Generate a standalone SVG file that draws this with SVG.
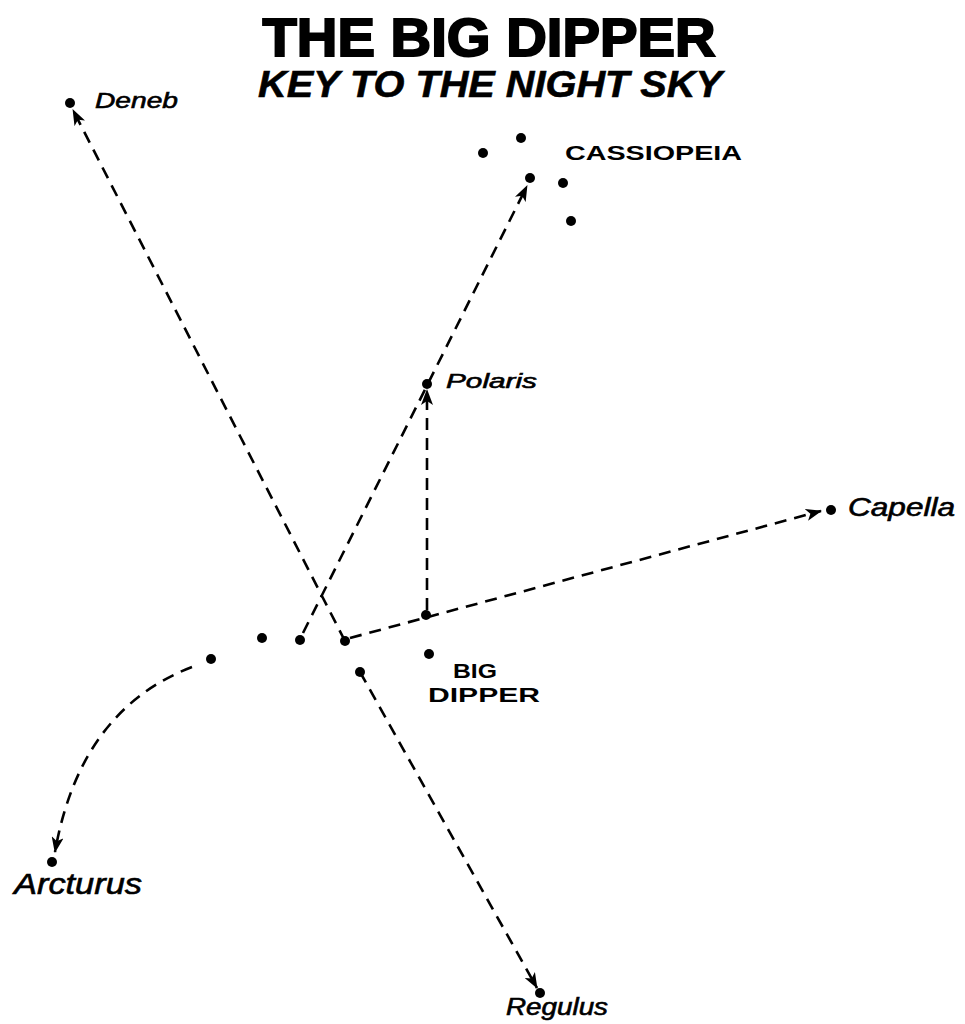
<svg xmlns="http://www.w3.org/2000/svg" width="965" height="1024" viewBox="0 0 965 1024">
<defs>
<marker id="arr" viewBox="0 0 16 12" refX="15" refY="6" markerWidth="16" markerHeight="12" markerUnits="userSpaceOnUse" orient="auto">
<path d="M0,0 L16,6 L0,12 L4,6 Z" fill="#000"/>
</marker>
<style>
.star{fill:#000}
.link{fill:none;stroke:#000;stroke-width:2.6;stroke-dasharray:12 8;marker-end:url(#arr)}
.hand{font-family:"Liberation Sans","DejaVu Sans",sans-serif;font-style:italic;fill:#000;stroke:#000;stroke-width:0.6}
.caps{font-family:"Liberation Sans","DejaVu Sans",sans-serif;font-weight:bold;fill:#000}
</style>
</defs>
<rect width="965" height="1024" fill="#fff"/>
<g id="title">
<text x="489" y="56" class="caps" font-size="54" font-weight="900" text-anchor="middle" textLength="453" lengthAdjust="spacingAndGlyphs" stroke="#000" stroke-width="2">THE BIG DIPPER</text>
<text x="490" y="97" class="hand" font-size="36" font-weight="bold" text-anchor="middle" textLength="464" lengthAdjust="spacingAndGlyphs">KEY TO THE NIGHT SKY</text>
</g>
<g id="connectors">
<path class="link" d="M345,641 L73,110"/>
<path class="link" d="M360,672 L537,988"/>
<path class="link" d="M303,633 L527,186"/>
<path class="link" d="M427,610 L427,390"/>
<path class="link" d="M350,638 L821,511"/>
<path class="link" d="M192,667 Q80,710 55,852"/>
</g>
<g id="deneb">
<circle class="star" cx="70" cy="103" r="5"/>
<text x="95" y="108" class="hand" font-size="22" textLength="83" lengthAdjust="spacingAndGlyphs">Deneb</text>
</g>
<g id="cassiopeia">
<circle class="star" cx="483" cy="153" r="5"/>
<circle class="star" cx="521" cy="138" r="5"/>
<circle class="star" cx="530" cy="178" r="5"/>
<circle class="star" cx="563" cy="183" r="5"/>
<circle class="star" cx="571" cy="221" r="5"/>
<text x="565" y="160" class="caps" font-size="20" textLength="177" lengthAdjust="spacingAndGlyphs">CASSIOPEIA</text>
</g>
<g id="polaris">
<circle class="star" cx="427" cy="384" r="5"/>
<text x="446" y="388" class="hand" font-size="21" textLength="91" lengthAdjust="spacingAndGlyphs">Polaris</text>
</g>
<g id="capella">
<circle class="star" cx="831" cy="510" r="5"/>
<text x="848" y="516" class="hand" font-size="25" textLength="107" lengthAdjust="spacingAndGlyphs">Capella</text>
</g>
<g id="big-dipper">
<circle class="star" cx="211" cy="659" r="5"/>
<circle class="star" cx="262" cy="638" r="5"/>
<circle class="star" cx="300" cy="640" r="5"/>
<circle class="star" cx="345" cy="641" r="5"/>
<circle class="star" cx="426" cy="615" r="5"/>
<circle class="star" cx="429" cy="654" r="5"/>
<circle class="star" cx="360" cy="672" r="5"/>
<text x="453" y="678" class="caps" font-size="20" textLength="44" lengthAdjust="spacingAndGlyphs">BIG</text>
<text x="428" y="702" class="caps" font-size="20" textLength="112" lengthAdjust="spacingAndGlyphs">DIPPER</text>
</g>
<g id="arcturus">
<circle class="star" cx="52" cy="862" r="5"/>
<text x="14" y="894" class="hand" font-size="29" textLength="128" lengthAdjust="spacingAndGlyphs">Arcturus</text>
</g>
<g id="regulus">
<circle class="star" cx="540" cy="993" r="5"/>
<text x="506" y="1015" class="hand" font-size="23" textLength="102" lengthAdjust="spacingAndGlyphs">Regulus</text>
</g>
</svg>
